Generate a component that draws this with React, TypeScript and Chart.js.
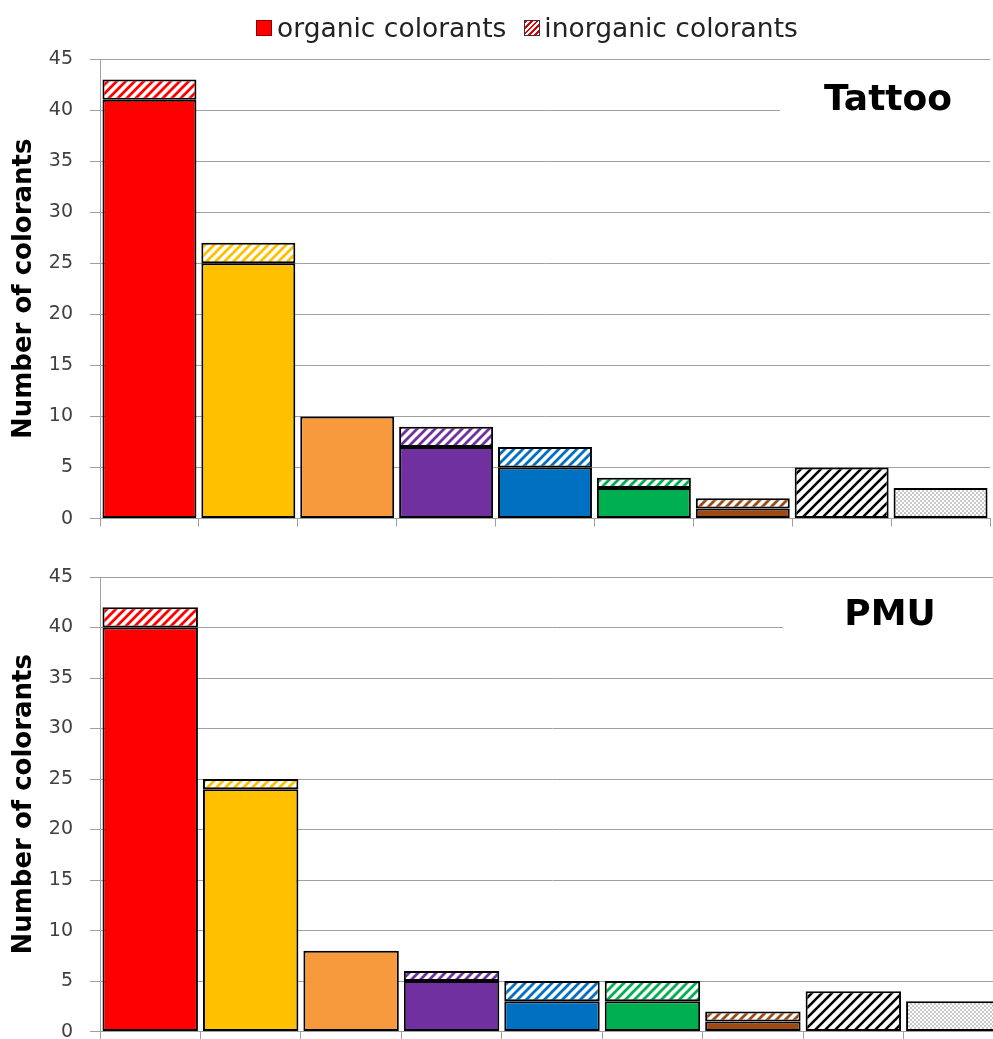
import React, { useEffect, useRef } from "react";
import { Chart, registerables } from "chart.js";

Chart.register(...registerables);

// ---------- data ----------
const categories = ["red", "yellow", "orange", "violet", "blue", "green", "brown", "black", "white"];
const seriesNames = ["organic colorants", "inorganic colorants"];
const tattooOrganic: (number | null)[] = [41, 25, 10, 7, 5, 3, 1, null, null];
const tattooInorganic: (number | null)[] = [2, 2, null, 2, 2, 1, 1, 5, 3];
const pmuOrganic: (number | null)[] = [40, 24, 8, 5, 3, 3, 1, null, null];
const pmuInorganic: (number | null)[] = [2, 1, null, 1, 2, 2, 1, 4, 3];
const yTickValues = [0, 5, 10, 15, 20, 25, 30, 35, 40, 45];
const panelTitles = ["Tattoo", "PMU"];
const yAxisTitle = "Number of colorants";

// ---------- styles ----------
const barColors = ["#FF0000", "#FFC000", "#F79A3E", "#7030A0", "#0070C0", "#00B050", "#9C4A12", "#000000", "#C8C8C8"];
const GRID = "#A0A0A0";
const FONT = '"DejaVu Sans", Verdana, sans-serif';

function makeHatch(color: string, size = 9, lw = 2.6): CanvasPattern {
  const c = document.createElement("canvas");
  c.width = size;
  c.height = size;
  const ctx = c.getContext("2d")!;
  ctx.fillStyle = "#ffffff";
  ctx.fillRect(0, 0, size, size);
  ctx.strokeStyle = color;
  ctx.lineWidth = lw;
  ctx.lineCap = "square";
  ctx.beginPath();
  ctx.moveTo(0, size);
  ctx.lineTo(size, 0);
  ctx.moveTo(-size / 2, size / 2);
  ctx.lineTo(size / 2, -size / 2);
  ctx.moveTo(size / 2, size * 1.5);
  ctx.lineTo(size * 1.5, size / 2);
  ctx.stroke();
  return ctx.createPattern(c, "repeat")!;
}

function makeDots(color: string): CanvasPattern {
  const c = document.createElement("canvas");
  c.width = 4;
  c.height = 4;
  const ctx = c.getContext("2d")!;
  ctx.fillStyle = "#ffffff";
  ctx.fillRect(0, 0, 4, 4);
  ctx.fillStyle = color;
  ctx.fillRect(0, 0, 2, 2);
  ctx.fillRect(2, 2, 2, 2);
  return ctx.createPattern(c, "repeat")!;
}

const titleBoxPlugin = {
  id: "titleBox",
  afterDraw(chart: any, _args: any, opts: any) {
    const ctx = chart.ctx as CanvasRenderingContext2D;
    ctx.save();
    ctx.fillStyle = "#ffffff";
    ctx.fillRect(opts.boxLeft, opts.boxTop, opts.boxWidth, opts.boxHeight);
    ctx.fillStyle = "#000000";
    ctx.font = `bold 36px ${FONT}`;
    ctx.textAlign = "center";
    ctx.textBaseline = "alphabetic";
    ctx.fillText(opts.text, opts.x, opts.y);
    ctx.restore();
  },
};

interface PanelProps {
  organic: (number | null)[];
  inorganic: (number | null)[];
  title: string;
  width: number;
  height: number;
  padding: { top: number; right: number; bottom: number; left: number };
  titlePos: { x: number; y: number; boxLeft: number; boxTop: number; boxWidth: number; boxHeight: number };
}

function Panel({ organic, inorganic, title, width, height, padding, titlePos }: PanelProps) {
  const ref = useRef<HTMLCanvasElement>(null);
  useEffect(() => {
    if (!ref.current) return;
    const inorgFill = barColors.map((c, i) =>
      i === barColors.length - 1 ? makeDots(c) : i === barColors.length - 2 ? makeHatch(c, 10, 2.6) : makeHatch(c, 9, 2.8)
    );
    const chart = new Chart(ref.current, {
      type: "bar",
      data: {
        labels: categories,
        datasets: [
          {
            label: seriesNames[0],
            data: organic,
            backgroundColor: barColors,
            borderColor: "#000000",
            borderWidth: 2,
            borderSkipped: false,
            barPercentage: 0.95,
            categoryPercentage: 1.0,
          },
          {
            label: seriesNames[1],
            data: inorganic,
            backgroundColor: inorgFill as any,
            borderColor: "#000000",
            borderWidth: 2,
            borderSkipped: false,
            barPercentage: 0.95,
            categoryPercentage: 1.0,
          },
        ],
      },
      options: {
        responsive: false,
        animation: false,
        layout: { padding },
        plugins: {
          legend: { display: false },
          tooltip: { enabled: false },
          titleBox: { text: title, ...titlePos },
        } as any,
        scales: {
          x: {
            stacked: true,
            offset: true,
            grid: {
              display: true,
              drawOnChartArea: false,
              drawTicks: true,
              tickLength: 8,
              color: GRID,
              offset: true,
            },
            border: { display: true, color: GRID },
            ticks: { display: false },
            afterFit: (s: any) => {
              s.height = 8;
            },
          },
          y: {
            stacked: true,
            min: 0,
            max: 45,
            afterBuildTicks: (s: any) => {
              s.ticks = yTickValues.map((v) => ({ value: v }));
            },
            ticks: {
              font: { family: FONT, size: 19 },
              color: "#404040",
              padding: 17,
            },
            grid: { color: GRID, tickLength: 10, lineWidth: 1 },
            border: { display: true, color: GRID },
            title: {
              display: true,
              text: yAxisTitle,
              font: { family: FONT, size: 26, weight: "bold" },
              color: "#000000",
              padding: { top: 9, bottom: 0 },
            },
            afterFit: (s: any) => {
              s.width = 100;
            },
          },
        },
      },
      plugins: [titleBoxPlugin],
    });
    return () => chart.destroy();
  }, []);
  return <canvas ref={ref} width={width} height={height} style={{ display: "block" }} />;
}

export default function App() {
  return (
    <div
      style={{
        position: "absolute",
        left: 0,
        top: 0,
        width: 993,
        height: 1039,
        overflow: "hidden",
        background: "#ffffff",
      }}
    >
      <div style={{ position: "absolute", left: 0, top: 0 }}>
        <Panel
          organic={tattooOrganic}
          inorganic={tattooInorganic}
          title={panelTitles[0]}
          width={993}
          height={547}
          padding={{ top: 59, right: 3, bottom: 18, left: 0 }}
          titlePos={{ x: 888, y: 110, boxLeft: 780, boxTop: 72, boxWidth: 220, boxHeight: 60 }}
        />
      </div>
      <div style={{ position: "absolute", left: 0, top: 545 }}>
        <Panel
          organic={pmuOrganic}
          inorganic={pmuInorganic}
          title={panelTitles[1]}
          width={1006}
          height={515}
          padding={{ top: 32, right: 2, bottom: 1, left: 0 }}
          titlePos={{ x: 890, y: 80, boxLeft: 783, boxTop: 45, boxWidth: 230, boxHeight: 60 }}
        />
      </div>
      <div
        style={{
          position: "absolute",
          top: 13,
          left: 256,
          display: "flex",
          alignItems: "center",
          fontFamily: FONT,
          fontSize: 26.5,
          lineHeight: "30px",
          color: "#222222",
          whiteSpace: "nowrap",
        }}
      >
        <span
          style={{
            display: "inline-block",
            width: 16,
            height: 16,
            background: barColors[0],
            border: "1px solid #900000",
            boxSizing: "border-box",
            marginRight: 5,
          }}
        />
        <span>{seriesNames[0]}</span>
        <span
          style={{
            display: "inline-block",
            width: 16,
            height: 16,
            marginLeft: 18,
            marginRight: 4,
            border: "1px solid #333333",
            boxSizing: "border-box",
            background: "repeating-linear-gradient(-45deg, #ffffff 0px, #ffffff 2px, #E00000 2px, #E00000 4px)",
          }}
        />
        <span>{seriesNames[1]}</span>
      </div>
    </div>
  );
}
